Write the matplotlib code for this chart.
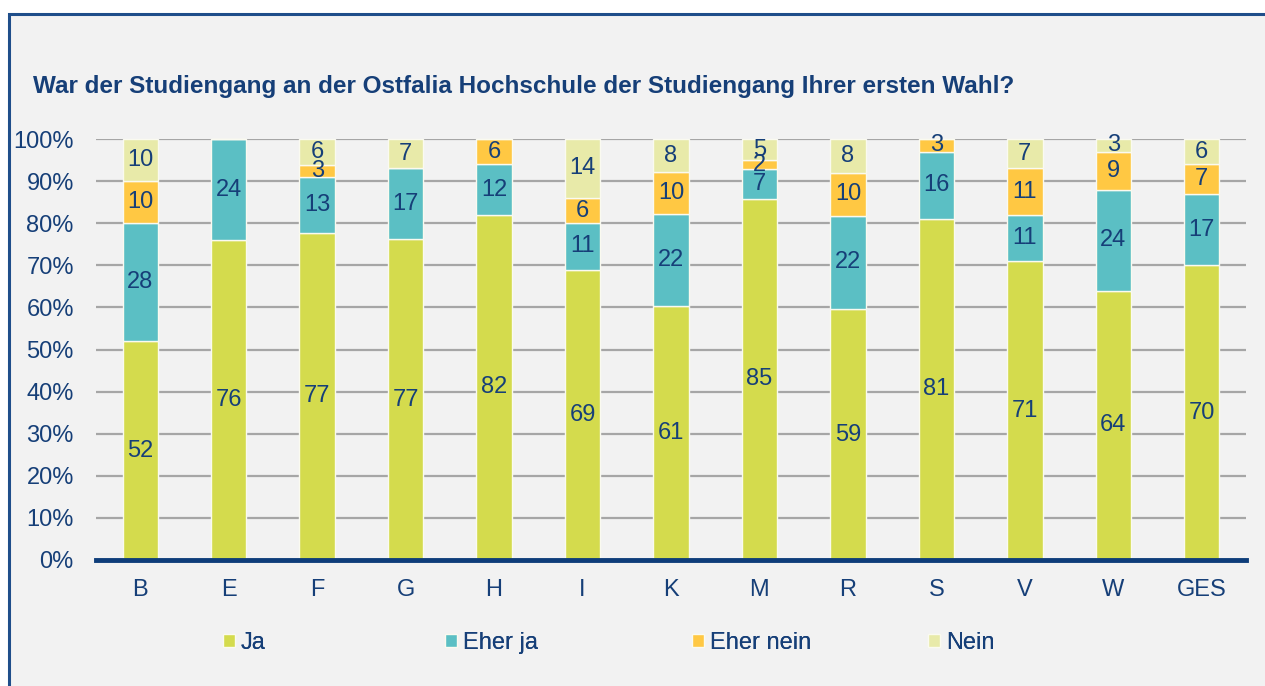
import matplotlib
matplotlib.use("Agg")
import matplotlib.pyplot as plt
from matplotlib.patches import Rectangle
import numpy as np

plt.rcParams['font.family'] = ['Liberation Sans', 'DejaVu Sans']

categories = ["B", "E", "F", "G", "H", "I", "K", "M", "R", "S", "V", "W", "GES"]
ja        = [52, 76, 77, 77, 82, 69, 61, 85, 59, 81, 71, 64, 70]
eher_ja   = [28, 24, 13, 17, 12, 11, 22, 7, 22, 16, 11, 24, 17]
eher_nein = [10, 0, 3, 0, 6, 6, 10, 2, 10, 3, 11, 9, 7]
nein      = [10, 0, 6, 7, 0, 14, 8, 5, 8, 0, 7, 3, 6]
series_names = ["Ja", "Eher ja", "Eher nein", "Nein"]
title = "War der Studiengang an der Ostfalia Hochschule der Studiengang Ihrer ersten Wahl?"

colors = ["#D4DB4D", "#5BBFC4", "#FFC843", "#E8EAA9"]
txt = "#163F78"
bg = "#F2F2F2"
fs = 17

W, H = 1265, 686
fig = plt.figure(figsize=(W / 100, H / 100), dpi=100, facecolor="white")
# panel background with border
fig.add_artist(Rectangle((9 / W, -0.1), 1.2, 1 - 14 / H + 0.1, transform=fig.transFigure,
                         facecolor=bg, edgecolor="#1F4E8A", lw=2.2, zorder=0))

ax = fig.add_axes([96 / W, 1 - 560 / H, (1246 - 96) / W, (560 - 139) / H])
ax.set_facecolor("none")

data = np.array([ja, eher_ja, eher_nein, nein], dtype=float)
totals = data.sum(axis=0)
pct = data / totals * 100
x = np.arange(len(categories))
bottom = np.zeros(len(categories))
handles = []
for i, name in enumerate(series_names):
    bars = ax.bar(x, pct[i], width=0.4, bottom=bottom, color=colors[i], edgecolor="#FAFAF0",
                  linewidth=1, label=name, zorder=3, clip_on=False)
    handles.append(bars)
    for j, b in enumerate(bars):
        if data[i, j] > 0:
            ax.text(b.get_x() + b.get_width() / 2, bottom[j] + pct[i, j] / 2, f"{int(data[i, j])}",
                    ha="center", va="center", color=txt, fontsize=fs, zorder=4)
    bottom += pct[i]

ax.set_xlim(-0.5, len(categories) - 0.5)
ax.set_ylim(0, 100)
ax.set_yticks(np.arange(0, 101, 10))
ax.set_yticklabels([f"{v}%" for v in range(0, 101, 10)])
ax.set_xticks(x)
ax.set_xticklabels(categories)
ax.tick_params(axis="both", length=0, colors=txt, labelsize=fs)
ax.tick_params(axis="y", pad=16)
ax.tick_params(axis="x", pad=14)
ax.yaxis.grid(True, color="#A6A6A6", lw=1.6, zorder=1)
ax.set_axisbelow(True)
for s in ["top", "right", "left"]:
    ax.spines[s].set_visible(False)
ax.spines["bottom"].set_color("#0E3D7A")
ax.spines["bottom"].set_linewidth(3.5)
ax.spines["bottom"].set_zorder(5)

fig.text(33 / W, 1 - 86 / H, title, fontsize=17.5, fontweight="bold", color=txt, ha="left", va="center")

# legend entries, one per series, at Excel-like positions
leg_x = [223, 445, 692, 928]
for h, name, lx in zip(handles, series_names, leg_x):
    lg = fig.legend(handles=[h], labels=[name], loc="center left",
                    bbox_to_anchor=(lx / W, 1 - 643 / H), frameon=False, fontsize=fs,
                    handlelength=0.5, handleheight=0.5, handletextpad=0.25,
                    borderpad=0, borderaxespad=0, labelcolor=txt)
    fig.add_artist(lg)

fig.savefig("out.png", dpi=100, facecolor="white")
